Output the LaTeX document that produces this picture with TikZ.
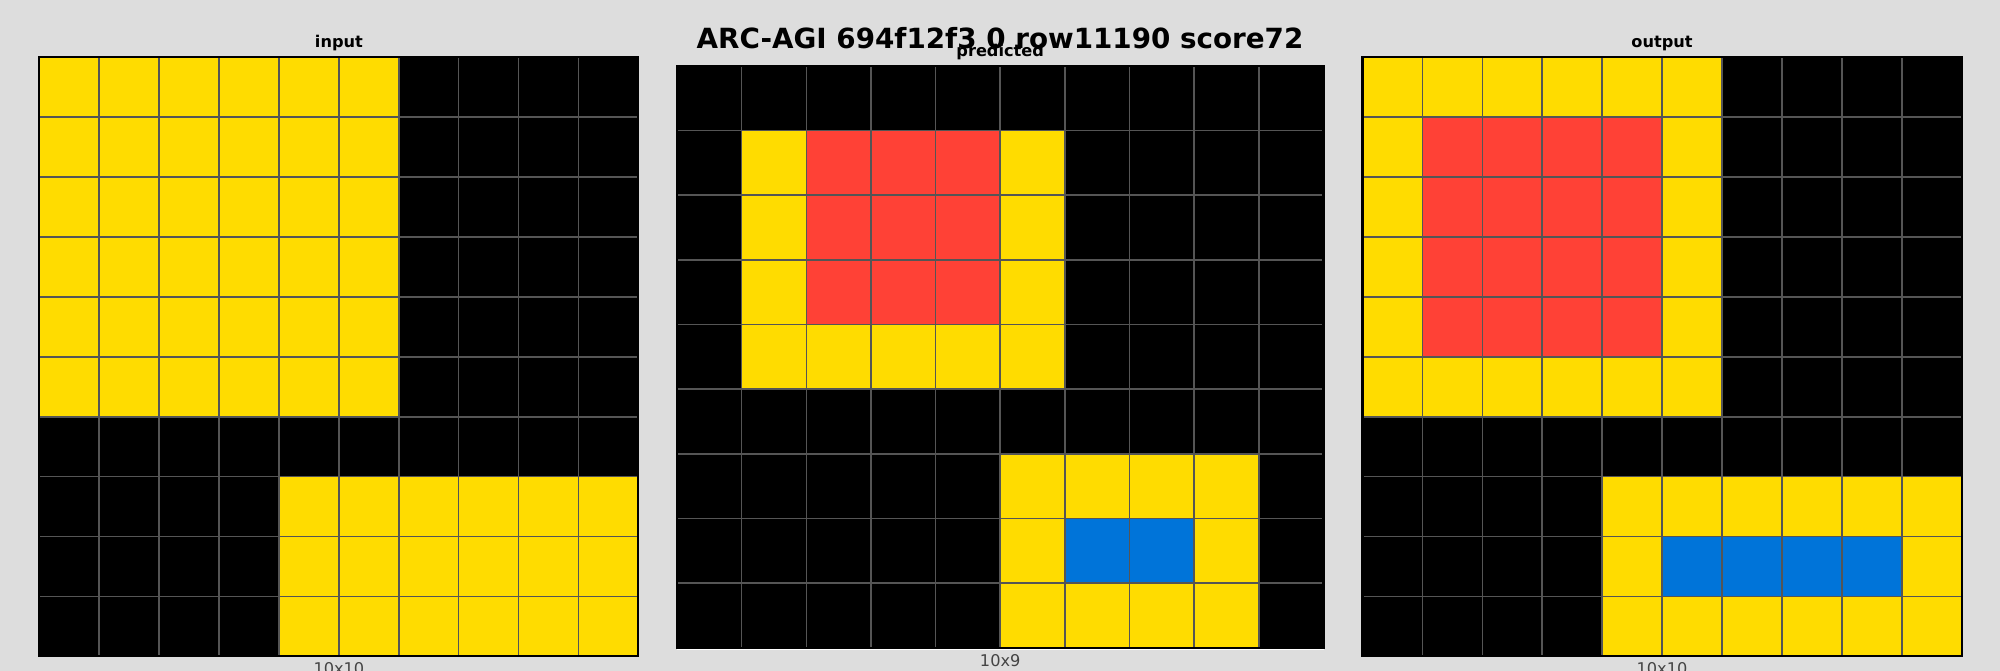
\documentclass[tikz,border=0pt]{standalone}
\usepackage{fontspec}
\setmainfont{DejaVu Sans}
\usetikzlibrary{positioning}
\definecolor{arcbg}{HTML}{DDDDDD}
\definecolor{arc0}{HTML}{000000}
\definecolor{arc1}{HTML}{0074D9}
\definecolor{arc2}{HTML}{FF4136}
\definecolor{arc4}{HTML}{FFDC00}
\definecolor{gridgray}{HTML}{555555}
\definecolor{dimgray}{HTML}{444444}

% #1,#2 = top left corner, #3 = cell size, #4 = rows of colour codes
\newcommand{\arcgrid}[4]{%
  \foreach \row [count=\r from 0] in {#4} {
    \foreach \v [count=\k from 0] in \row {
      \filldraw[cell, fill=arc\v] (#1+\k*#3, #2+\r*#3) rectangle ++(#3,#3);
    }
  }
}

\begin{document}
\begin{tikzpicture}[x=0.01cm, y=-0.01cm,
    cell/.style={draw=gridgray, line width=0.45pt},
    frame/.style={draw=black, line width=0.6pt},
    panel/.style={font=\fontsize{4.6}{5}\selectfont\bfseries, anchor=base},
    dims/.style={font=\fontsize{4.6}{5}\selectfont, text=dimgray, anchor=base}
]

% Background
\fill[arcbg] (0,0) rectangle (2000,671);
\useasboundingbox (0,0) rectangle (2000,671);

% Input grid
\arcgrid{39.3}{57.3}{59.91}{
  {4,4,4,4,4,4,0,0,0,0},{4,4,4,4,4,4,0,0,0,0},{4,4,4,4,4,4,0,0,0,0},
  {4,4,4,4,4,4,0,0,0,0},{4,4,4,4,4,4,0,0,0,0},{4,4,4,4,4,4,0,0,0,0},
  {0,0,0,0,0,0,0,0,0,0},{0,0,0,0,4,4,4,4,4,4},{0,0,0,0,4,4,4,4,4,4},
  {0,0,0,0,4,4,4,4,4,4}}
\draw[frame] (39.3,57.3) rectangle (638.4,656.4);

% Predicted grid
\arcgrid{677}{66}{64.65}{
  {0,0,0,0,0,0,0,0,0,0},{0,4,2,2,2,4,0,0,0,0},{0,4,2,2,2,4,0,0,0,0},
  {0,4,2,2,2,4,0,0,0,0},{0,4,4,4,4,4,0,0,0,0},{0,0,0,0,0,0,0,0,0,0},
  {0,0,0,0,0,4,4,4,4,0},{0,0,0,0,0,4,1,1,4,0},{0,0,0,0,0,4,4,4,4,0}}
\draw[frame] (677,66) rectangle (1323.5,647.9);
\draw[white, line width=0.5pt] (677,649.4) -- (1323.5,649.4);

% Output grid
\arcgrid{1362.5}{57.3}{59.91}{
  {4,4,4,4,4,4,0,0,0,0},{4,2,2,2,2,4,0,0,0,0},{4,2,2,2,2,4,0,0,0,0},
  {4,2,2,2,2,4,0,0,0,0},{4,2,2,2,2,4,0,0,0,0},{4,4,4,4,4,4,0,0,0,0},
  {0,0,0,0,0,0,0,0,0,0},{0,0,0,0,4,4,4,4,4,4},{0,0,0,0,4,1,1,1,1,4},
  {0,0,0,0,4,4,4,4,4,4}}
\draw[frame] (1362.5,57.3) rectangle (1961.6,656.4);

% Labels
\node[panel] (inlbl) at (338.9,48) {input};
\node[panel] (predlbl) at (1000.2,56.5) {predicted};
\node[panel] (outlbl) at (1662,48) {output};
\node[dims] (indims) at (338.9,675) {10x10};
\node[dims] (preddims) at (1000.2,667) {10x9};
\node[dims] (outdims) at (1662,675) {10x10};

% Title
\node[font=\fontsize{7.9}{9}\selectfont\bfseries, anchor=base] (title) at (1000,49)
     {ARC-AGI 694f12f3 0 row11190 score72};

\end{tikzpicture}
\end{document}
